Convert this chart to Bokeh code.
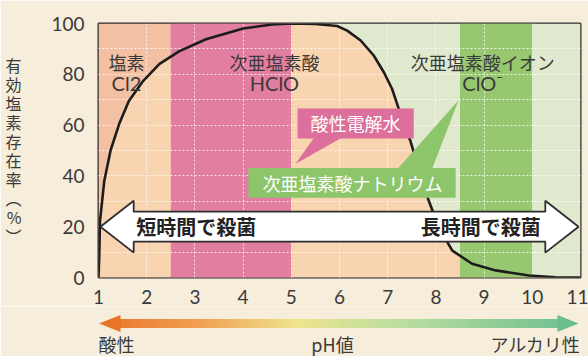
import numpy as np
from bokeh.plotting import figure
from bokeh.layouts import column
from bokeh.models import Range1d, FixedTicker
from bokeh.core.properties import value
from bokeh.embed import file_html
from bokeh.resources import INLINE

# ---------------- data ----------------
ph = [1.00, 1.015, 1.03, 1.12, 1.25, 1.43, 1.63, 1.91, 2.26, 2.67, 3.23, 4.00, 4.60,
      5.00, 5.50, 5.95, 6.16, 6.44, 6.71, 6.92, 7.09, 7.23, 7.33, 7.47, 7.65, 7.85,
      8.06, 8.34, 8.75, 9.24, 9.93, 10.48, 11.00]
hclo = [0, 8, 22, 38, 50, 60.5, 69.5, 77, 84, 89, 93.8, 98, 99.6,
        100, 99.8, 99, 97.2, 93.3, 87.4, 80.8, 74.3, 66.4, 59.8, 53.9, 42.1, 30.3,
        19.8, 10.6, 5.4, 2.8, 0.8, 0.1, 0]

band_start = [1.0, 2.5, 5.0, 8.5, 10.0]
band_end = [2.5, 5.0, 8.5, 10.0, 11.0]

x_ticks = [1, 2, 3, 4, 5, 6, 7, 8, 9, 10, 11]
y_ticks = [0, 20, 40, 60, 80, 100]
y_grid = [10, 20, 30, 40, 50, 60, 70, 80, 90]

species_names = ["塩素", "次亜塩素酸", "次亜塩素酸イオン"]
species_formulas = ["Cl2", "HClO", "ClO⁻"]
species_ph = [1.58, 4.65, 8.97]

callout_pink = "酸性電解水"
callout_green = "次亜塩素酸ナトリウム"
arrow_left_text = "短時間で殺菌"
arrow_right_text = "長時間で殺菌"
ylabel_chars = ["有", "効", "塩", "素", "存", "在", "率", "︵", "%", "︶"]
bottom_labels = ["酸性", "pH値", "アルカリ性"]

# ---------------- styles ----------------
BG = "#f6eddb"
SALMON = "#f3c0a4"
PINK = "#e17ea1"
PEACH = "#f9d4b0"
LGREEN = "#e0e9cd"
GREEN = "#97c86f"
band_colors = [SALMON, PINK, LGREEN, GREEN, LGREEN]
TXT = "#3a3a3a"
CJK = "Noto Sans CJK JP"
LAT = "Lato"

W, H_MAIN, H_BOT = 588, 306, 50
FL, FR, FT, FB = 98, 580, 23, 278


def px2x(px):
    return 1 + (px - FL) / (FR - FL) * 10


p = figure(width=W, height=H_MAIN, x_range=Range1d(1, 11), y_range=Range1d(0, 100),
           min_border_left=FL, min_border_right=W - FR, min_border_top=FT,
           min_border_bottom=H_MAIN - FB, toolbar_location=None, output_backend="svg")
p.background_fill_color = BG
p.border_fill_color = BG
p.outline_line_color = "#2e2e2e"
p.outline_line_width = 2

# bands
p.quad(left=band_start, right=band_end, bottom=0, top=100, fill_color=band_colors,
       line_color=None, level="image")
p.varea(x=ph, y1=0, y2=hclo, fill_color=PEACH, level="image")
p.quad(left=[band_start[1], band_start[3]], right=[band_end[1], band_end[3]], bottom=0, top=100,
       fill_color=[PINK, GREEN], line_color=None, level="image")

# grid
p.xgrid.ticker = FixedTicker(ticks=x_ticks)
p.ygrid.ticker = FixedTicker(ticks=y_grid)
p.grid.grid_line_color = "white"
p.grid.grid_line_alpha = 0.8
p.grid.grid_line_dash = "2 2"
p.grid.grid_line_width = 1

# axes
p.xaxis.ticker = FixedTicker(ticks=x_ticks)
p.yaxis.ticker = FixedTicker(ticks=y_ticks)
for ax in (p.xaxis, p.yaxis):
    ax.axis_line_color = None
    ax.major_tick_line_color = None
    ax.minor_tick_line_color = None
    ax.major_label_text_font = LAT
    ax.major_label_text_font_size = "19px"
    ax.major_label_text_color = TXT
p.xaxis.major_label_standoff = 6
p.yaxis.major_label_standoff = 8

# vertical stacked y-axis title
p.yaxis.axis_label = "\n".join(ylabel_chars)
p.yaxis.axis_label_orientation = "horizontal"
p.yaxis.axis_label_text_font = CJK
p.yaxis.axis_label_text_font_size = "16px"
p.yaxis.axis_label_text_font_style = "normal"
p.yaxis.axis_label_text_color = TXT
p.yaxis.axis_label_text_line_height = 0.79
p.yaxis.axis_label_standoff = 27

# curve
p.line(ph, hclo, line_color="#1c1c1c", line_width=2.6)

# species labels
p.text(x=species_ph, y=[84.7] * 3, text=species_names, text_font=value(CJK),
       text_font_size="18px", text_color=TXT, text_align="center", text_baseline="middle")
p.text(x=species_ph, y=[76.4] * 3, text=species_formulas, text_font=value(LAT),
       text_font_size="20px", text_color=TXT, text_align="center", text_baseline="middle")

# callouts
p.patch([5.13, 7.54, 7.54, 6.02, 5.09, 5.46, 5.13],
        [66.5, 66.5, 54.7, 54.7, 44.8, 54.7, 54.7], fill_color="#dc6f9c", line_color=None)
p.text(x=[6.33], y=[60.8], text=[callout_pink], text_font=value(CJK), text_font_size="18px",
       text_color="white", text_align="center", text_baseline="middle")
p.patch([4.11, 7.22, 8.47, 7.93, 8.41, 8.41, 4.11],
        [43.1, 43.1, 69.8, 43.1, 43.1, 31.4, 31.4], fill_color="#8dc56b", line_color=None)
p.text(x=[6.27], y=[37.3], text=[callout_green], text_font=value(CJK), text_font_size="18px",
       text_color="white", text_align="center", text_baseline="middle")

# double arrow
p.patch([1.04, 1.73, 1.73, 10.27, 10.27, 10.96, 10.27, 10.27, 1.73, 1.73],
        [20, 30.2, 25.9, 25.9, 30.2, 20, 9.8, 14.1, 14.1, 9.8],
        fill_color="white", line_color="#2e2e2e", line_width=1.8)
p.text(x=[3.03, 8.93], y=[20, 20], text=[arrow_left_text, arrow_right_text],
       text_font=value(CJK), text_font_size="20px", text_font_style="bold",
       text_color="#222222", text_align="center", text_baseline="middle")

# ---------------- bottom strip (frame aligned with the main frame) ----------------
q = figure(width=W, height=H_BOT, x_range=Range1d(1, 11), y_range=Range1d(H_BOT, 0),
           min_border_left=FL, min_border_right=W - FR, min_border_top=0, min_border_bottom=0,
           toolbar_location=None, output_backend="svg", x_axis_type=None, y_axis_type=None)
q.background_fill_color = BG
q.border_fill_color = BG
q.outline_line_color = None
q.grid.visible = False

stop_px = [98, 200, 295, 400, 578]
stop_rgb = np.array([[232, 116, 40], [240, 160, 82], [238, 228, 140], [186, 222, 160], [108, 190, 142]])


def col_at(px):
    r, g, b = (int(round(np.interp(px, stop_px, stop_rgb[:, i]))) for i in range(3))
    return "#%02x%02x%02x" % (r, g, b)


cy = 17
xs = np.linspace(119, 558, 120)
q.quad(left=[px2x(v) for v in xs[:-1]], right=[px2x(v + 0.6) for v in xs[1:]],
       bottom=cy + 4.5, top=cy - 4.5,
       fill_color=[col_at((a + b) / 2) for a, b in zip(xs[:-1], xs[1:])], line_color=None)
q.patch([px2x(98.5), px2x(120), px2x(120)], [cy, cy - 8.5, cy + 8.5],
        fill_color=col_at(98), line_color=None)
q.patch([px2x(578), px2x(557), px2x(557)], [cy, cy - 8.5, cy + 8.5],
        fill_color=col_at(578), line_color=None)

q.text(x=[px2x(98), px2x(332), px2x(580)], y=[37.5, 37.5, 37.5], text=bottom_labels,
       text_font=value(CJK), text_font_size="18px", text_color=TXT,
       text_align=["left", "center", "right"], text_baseline="middle")

layout = column(p, q, spacing=0)
open("out.html", "w").write(file_html(layout, INLINE))
